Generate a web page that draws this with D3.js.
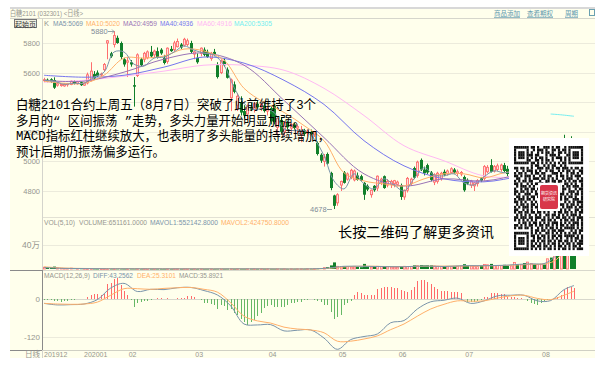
<!DOCTYPE html>
<html><head><meta charset="utf-8">
<style>html,body{margin:0;padding:0;background:#fff}svg{display:block}text{font-family:"Liberation Sans","Noto Sans CJK SC",sans-serif}</style>
<script src="https://cdn.jsdelivr.net/npm/d3@7/dist/d3.min.js"></script></head><body><div id="c"></div>
<script>
// one [open, high, low, close] per trading day
const candles=[[5545,5565,5535,5552],[5552,5560,5535,5540],[5555,5562,5530,5538],[5550,5568,5490,5498],[5515,5530,5505,5525],[5512,5525,5505,5520],[5510,5530,5505,5522],[5518,5530,5505,5526],[5520,5548,5515,5542],[5540,5548,5520,5525],
[5525,5545,5518,5538],[5535,5540,5510,5515],[5515,5535,5510,5530],[5530,5600,5520,5585],[5550,5670,5540,5610],[5590,5610,5555,5560],[5600,5615,5570,5575],[5585,5600,5570,5590],[5620,5665,5610,5655],[5800,5820,5690,5815],
[5730,5740,5700,5710],[5790,5880,5770,5850],[5835,5850,5795,5800],[5800,5810,5690,5705],[5690,5700,5640,5655],[5670,5705,5570,5680],[5670,5685,5640,5655],[5515,5570,5370,5505],[5580,5730,5570,5720],[5690,5700,5640,5650],
[5690,5740,5670,5730],[5700,5750,5690,5740],[5740,5780,5700,5710],[5720,5755,5705,5745],[5745,5770,5695,5705],[5755,5765,5720,5730],[5700,5720,5655,5665],[5675,5770,5660,5765],[5760,5780,5740,5745],[5755,5815,5745,5800],
[5775,5830,5770,5810],[5790,5800,5760,5770],[5785,5835,5775,5825],[5790,5830,5780,5815],[5800,5815,5730,5740],[5725,5745,5690,5740],[5700,5730,5660,5670],[5730,5770,5710,5765],[5755,5770,5710,5720],[5740,5755,5700,5705],
[5695,5740,5680,5730],[5740,5760,5710,5720],[5650,5670,5560,5570],[5600,5690,5590,5680],[5680,5700,5640,5650],[5620,5635,5560,5565],[5430,5560,5340,5550],[5520,5540,5460,5470],[5380,5460,5340,5440],[5400,5440,5310,5330],
[5340,5380,5290,5310],[5320,5385,5280,5370],[5370,5395,5340,5350],[5350,5400,5330,5390],[5390,5410,5355,5365],[5365,5395,5340,5385],[5375,5395,5330,5340],[5340,5370,5310,5360],[5360,5375,5250,5270],[5375,5390,5250,5265],
[5230,5300,5180,5290],[5280,5300,5190,5200],[5200,5270,5170,5260],[5260,5275,5210,5230],[5225,5260,5200,5250],[5250,5260,5215,5225],[5225,5250,5190,5235],[5180,5240,5130,5210],[5210,5220,5170,5185],[5190,5215,5170,5205],
[5200,5215,5175,5185],[5185,5200,5165,5195],[5125,5135,5040,5050],[5045,5055,4990,5005],[5000,5050,4965,5030],[5050,5060,4975,4985],[4922,4930,4805,4820],[4770,4775,4678,4700],[4720,4785,4700,4775],[4840,4870,4800,4865],
[4925,4935,4850,4855],[4880,4925,4870,4915],[4890,4950,4880,4940],[4875,4945,4865,4935],[4905,4925,4870,4875],[4900,4910,4865,4870],[4855,4860,4740,4775],[4835,4845,4800,4810],[4775,4810,4755,4805],[4835,4840,4795,4805],
[4820,4905,4800,4900],[4860,4890,4840,4880],[4900,4905,4815,4820],[4840,4880,4825,4865],[4845,4875,4820,4865],[4850,4875,4825,4870],[4845,4870,4830,4860],[4840,4850,4740,4760],[4760,4810,4740,4805],[4805,4895,4790,4885],
[4850,4890,4835,4880],[4955,4965,4880,4890],[4905,5005,4890,4995],[5010,5020,4935,4945],[4945,4965,4905,4920],[4975,4985,4915,4925],[4925,4935,4865,4875],[4860,4920,4840,4910],[4865,4930,4850,4920],[4885,4930,4870,4920],
[4930,4945,4900,4910],[4915,4945,4905,4935],[4925,4960,4915,4950],[4945,4955,4915,4925],[4920,4945,4900,4930],[4915,4935,4900,4925],[4895,4905,4795,4805],[4875,4885,4840,4850],[4840,4875,4820,4865],[4835,4860,4800,4855],
[4850,4880,4830,4870],[4885,4895,4860,4870],[4885,4975,4870,4965],[4930,4975,4920,4960],[4975,5015,4925,4930],[4935,4975,4925,4965],[4945,4985,4935,4970],[4945,4985,4930,4975],[4975,4990,4925,4935],[4950,4970,4900,4915],
[4915,4960,4900,4950],[4950,4990,4940,4980],[4980,5000,4950,4965],[4965,4995,4950,4985],[4985,5010,4965,4975],[4975,5000,4950,4990],[4990,5020,4975,5010],[5010,5030,4985,4995],[4995,5020,4975,5005],[5005,5030,4990,5020],
[5020,5040,4995,5005],[5005,5060,4995,5050],[5050,5080,5030,5040],[5040,5100,5030,5090],[5090,5130,5070,5080],[5080,5150,5060,5140],[5140,5180,5080,5095],[5095,5150,5080,5140],[5140,5170,5100,5110],[5110,5150,5085,5069]];
const maDaysFine=[0,3,6,9,12,15,18,21,24,27,30,33,36,39,42,45,48,51,54,57,60,63,66,69,72,75,78,81,84,87,90,93,96,99,102,105,108,111,114,117,120,123,126,129,132,135,138,141,144,147,150,153,156,159];
const ma5=[5548,5542,5521,5528,5528,5569,5603,5739,5739,5657,5644,5698,5705,5739,5780,5752,5732,5718,5650,5501,5392,5351,5358,5331,5222,5208,5208,5154,5038,4868,4814,4916,4848,4814,4882,4841,4800,4882,4957,4909,4902,4916,4855,4841,4896,4936,4923,4935,4950,4940,4930,4980,5030,5069];
const maDaysMid=[0,6,12,18,24,30,36,42,48,54,60,66,72,78,84,90,96,102,108,114,120,126,132,138,144,150,156,159];
const ma10=[5542,5528,5528,5582,5698,5698,5712,5759,5746,5684,5494,5399,5331,5242,5140,4923,4868,4848,4834,4882,4916,4916,4889,4923,4940,4950,4990,5020];
const maDaysWide=[0,12,24,36,48,60,72,84,96,108,120,132,144,159];
const ma20=[5548,5542,5603,5691,5732,5650,5412,5161,4916,4834,4882,4868,4916,4959];
const ma40=[5582,5569,5582,5637,5705,5664,5548,5385,5140,4970,4882,4862,4902,4936];
const ma60=[5535,5548,5576,5610,5650,5650,5616,5494,5310,5106,5004,4902,4896,4916];
const ma200Days=[152,155,159];
const ma200=[5320,5315,5305];
// daily volume, thousands of lots
const volume=[30,26,24,40,18,12,10,10,14,10, 9,8,8,6,7,5,4,4,5,6, 5,5,6,5,4,4,5,5,6,4, 4,3,4,3,4,3,3,4,3,3, 4,3,3,4,3,3,3,4,3,3, 3,3,4,3,3,4,3,3,4,3, 3,3,4,3,3,4,3,3,3,3, 3,4,3,3,3,4,3,3,4,5, 5,6,8,14,22,30,60,110,45,35, 40,38,30,32,35,30,85,45,30,35, 45,40,50,35,30,30,28,50,45,40, 42,60,55,65,60,62,60,50,45,40, 38,35,38,40,45,50,80,55,50,45, 40,55,75,70,85,60,58,55,70,55, 50,110,80,70,100,115,90,80,75,80, 75,170,190,230,290,410,520,560,610,651];
const volDays=[0,6,12,18,24,60,84,90,96,102,108,114,120,126,132,138,144,147,150,153,156,159];
const mavol1=[24,10,7,5,4,3,10,45,45,40,38,50,42,55,55,62,82,85,90,190,390,552];
const mavol2=[36,16,9,6,5,3,6,35,48,42,40,46,48,50,52,58,72,78,85,130,280,425];
const macdDays=[0,4,8,12,16,20,24,28,32,36,40,44,48,52,56,60,64,68,72,76,80,84,88,92,96,100,104,108,112,116,120,124,128,132,136,140,144,148,152,156,159];
const diff=[-14,-19,-18,-16,-2,35,50,24,31,30,36,37,27,13,-22,-80,-83,-82,-102,-100,-99,-125,-161,-130,-120,-112,-76,-69,-32,-9,-4,3,-14,-6,10,12,12,-6,-5,30,43];
const dea=[-14,-16,-17,-16,-10,12,33,33,31,34,36,37,31,22,-12,-55,-70,-77,-90,-96,-99,-108,-135,-135,-128,-118,-98,-80,-55,-32,-17,-6,-7,-6,3,10,12,2,-2,12,25];
const macdBar=[-2,-3,-4,-7,-6,-8,-7,-5,-4,-3,-1,-1,0,6,12,16,16,14,16,48,50,64,67,45,26,14,-3,-26,-13,-9,-7,-5,-2,1,2,3,1,2,1,1,3,2,3,9,11,6,-1,-2,-12,-14,-17,-18,-32,-20,-22,-36,-32,-45,-50,-64,-72,-82,-72,-68,-55,-45,-30,-23,-20,-24,-27,-25,-26,-20,-13,-12,-10,-8,-2,-3,-1,-3,-5,-8,-18,-18,-40,-64,-58,-50,-20,-12,-5,14,22,20,12,14,12,14,32,36,38,38,38,36,35,28,26,24,30,38,58,62,60,53,48,38,32,27,25,25,23,22,21,18,1,-10,-11,-9,-6,-4,6,8,19,19,18,17,16,7,6,6,4,3,1,-5,-12,-16,-18,-14,-6,-3,1,3,8,14,30,40,38,36];
const priceTicks=[5800,5600,5400,5200,5000,4800];
const monthIdx=[0,12,26,46,68,89,107,127,150];
const monthLabels=["201912","202001","02","03","04","05","06","07","08"];
const noteLines=["白糖2101合约上周五（8月7日）突破了此前维持了3个","多月的“ 区间振荡 ”走势，多头力量开始明显加强。","MACD指标红柱继续放大，也表明了多头能量的持续增加，","预计后期仍振荡偏多运行。"];
const qrRows=[
"#######.##.#..###.#.##..#.#######",
"#.....#..#.###.#..##.#.##.#.....#",
"#.###.#.#..#.#.##.#..##.#.#.###.#",
"#.###.###.##...#.###.#...##.###.#",
"#.###.#.#.#.##.#..#.###.#.#.###.#",
"#.....##..##.#.##.#...#.#.#.....#",
"#######.##.#.#.#.#.#.#.##.#######",
"........#.##..#.#.##..#.#........",
"##.##.#.#..###.##.#.##.###.#.##.#",
".#..#.###.#.#..#.##..#.#.##.#..##",
"#.##.#..#.##.##...###.#..#.##.#.#",
"##.#.###.#..#.#.##..#.##.#.#.###.",
".##..#.#.###.##.#.#.#..#.###..#.#",
"#.#.##.##...#..##.##.##.#.#.##.##",
"##.#..#.#.##.#.#...#.#..##.#.#..#",
".#.###.#.#..##.##.##.#.#.##.###.#",
"#..#.##.##.#.###.#..##.##.#..#.##",
"##.##.#.#.#..#.###.#.#.#..###.#.#",
"#.#..###..##.##.#.##..##.#.#.##.#",
".##.#.#.##.#.#..##.#.##.#.##.#..#",
"#.###.##.#..##.#.#.##.#.##..###.#",
"##.#.#..#.#.###..#.#.#..#.#.#.###",
".#.##.#.##.#..#.##.##.##.#.##.#.#",
"#.#.###.#.##.##.#.#..#.#.###.#.##",
"##..#.#.#..#.#.##.###.#.#.#..##.#",
"#.##.##.##.##.#.#..#.##.##.#.#.##",
".#.#.#.#..#.#..##.##.#.#.#.###.#.",
"##.###.##.###.#.#.#.##.##.#.#.###",
"#.#.#.#.#.#..##.##.#..#.##.##.#.#",
"..#.##.#.##.#.#.#.###.#.#.#.###.#",
"##.#.#.##.#.##.##.#.#.##.#.##.#.#",
"#.##.##.#..#.#.#.##.#.#.#####.#.#",
"........#.##.##.#.##.###...#.#.##",
"#######.#.#.#..##.#.#.#.#.#.##.#.",
"#.....#.##.#.##.#.##.##.#####.#.#",
"#.###.#..#.##.#.#.#.#.#..#.#.##.#",
"#.###.#.##.#.##.##.#.##.##.#.#.##",
"#.###.#.#.#.#.#.#.##.#.#.##.#.###",
"#.....#.##.##.##.#.#.##.#.#.##.#.",
"#######.#.#.#.#.##.#.#.##.#.#.###"];
const W=609,H=369,bg="#ffffec",grid="#ecebdc",gray="#96968f";
const C={slate:"#7a94aa",orange:"#ffb06a",purple:"#9a74b6",blue:"#7676ee",pink:"#ffb8f4",cyan:"#74eef0",red:"#ff6e6e",green:"#11802a"};
const svg=d3.select("#c").append("svg").attr("width",W).attr("height",H);
const x=d3.scaleLinear().domain([0,159]).range([44,574]);
const yP=d3.scaleLinear().domain([4800,5800]).range([191,43]);
const yV=d3.scaleLinear().domain([0,400]).range([269,245]);
const yM=d3.scaleLinear().domain([-120,0]).range([336.5,299]);
const rx=v=>Math.round(x(v));
svg.append("rect").attr("x",10).attr("y",8).attr("width",585).attr("height",350).attr("fill",bg);
svg.append("rect").attr("x",10).attr("y",7).attr("width",585).attr("height",2).attr("fill","#d8d8d8");
const hl=(y,x1,x2,c)=>svg.append("line").attr("x1",x1).attr("x2",x2).attr("y1",y+.5).attr("y2",y+.5).attr("stroke",c);
const txt=(s,px,py,o={})=>{const t=svg.append("text").attr("x",px).attr("y",py).text(s).attr("font-size",o.size||7.5).attr("fill",o.fill||gray).attr("text-anchor",o.anchor||"start");
  if(o.len)t.attr("textLength",o.len).attr("lengthAdjust","spacingAndGlyphs");if(o.weight)t.attr("font-weight",o.weight);if(o.deco)t.attr("text-decoration",o.deco);return t;};
hl(18,10,595,"#d6d6cc");
priceTicks.forEach(p=>{hl(Math.round(yP(p)),43,595,grid);txt(p,40,yP(p)+3,{anchor:"end",size:7.5});});
hl(217,43,595,"#e2e1d4");hl(245,43,595,grid);hl(270,43,595,"#d8d8cc");hl(270,10,43,"#8a8a8a");
hl(Math.round(yM(0)),43,595,"#d8d8cc");hl(Math.round(yM(-120)),43,595,grid);hl(350,43,595,"#d0d0c4");hl(350,10,43,"#8a8a8a");
svg.append("line").attr("x1",42.5).attr("x2",42.5).attr("y1",18).attr("y2",270).attr("stroke","#d4d4cc");
svg.append("line").attr("x1",42.5).attr("x2",42.5).attr("y1",270).attr("y2",350).attr("stroke","#8a8a8a");
svg.append("line").attr("x1",42.5).attr("x2",42.5).attr("y1",350).attr("y2",358).attr("stroke","#d4d4cc");
// header
txt("白糖2101 (032301) <日线>",10,16,{size:7.5,len:73});
[["商品添加",494,26],["查看期权",527,26],["周期",565,13]].forEach(d=>txt(d[0],d[1],16,{size:6.5,fill:"#5d98ad",len:d[2],deco:"underline"}));
svg.append("rect").attr("x",589.5).attr("y",9.5).attr("width",5).attr("height",6).attr("fill","none").attr("stroke","#6aa0b0");
svg.append("rect").attr("x",14.5).attr("y",19.5).attr("width",22).attr("height",8).attr("fill","#f2f2e2").attr("stroke","#777");
txt("起始页",25.5,26.5,{size:7,fill:"#333",anchor:"middle"});
txt("K",44,26,{size:7.5});
[["MA5:5069",53,30,C.slate],["MA10:5020",86,34,C.orange],["MA20:4959",123,34,C.purple],["MA40:4936",160,33,C.blue],["MA60:4916",197,35,C.pink],["MA200:5305",234,38,C.cyan]].forEach(d=>txt(d[0],d[1],26,{fill:d[3],len:d[2],weight:500}));
// candles
const up=d=>d[3]>=d[0];
const gC=svg.append("g");
gC.selectAll("line").data(candles).join("line").attr("x1",(d,i)=>rx(i)+.5).attr("x2",(d,i)=>rx(i)+.5).attr("y1",d=>yP(d[1])).attr("y2",d=>yP(d[2])).attr("stroke",d=>up(d)?C.red:C.green);
gC.selectAll("rect").data(candles).join("rect").attr("x",(d,i)=>rx(i)-(up(d)?.5:1)).attr("width",d=>up(d)?2:3)
 .attr("y",d=>yP(Math.max(d[0],d[3]))).attr("height",d=>Math.max(1,Math.abs(yP(d[0])-yP(d[3]))))
 .attr("fill",d=>up(d)?"#ffdcd9":C.green).attr("stroke",d=>up(d)?C.red:"none").attr("stroke-width",d=>up(d)?.9:0);
const line=(days,vals,sc,col,w=1,curve=d3.curveCatmullRom)=>svg.append("path").attr("fill","none").attr("stroke",col).attr("stroke-width",w)
 .attr("d",d3.line().x((d,i)=>x(days[i])).y(d=>sc(d)).curve(curve)(vals));
line(maDaysWide,ma60,yP,C.pink);line(ma200Days,ma200,yP,C.cyan);line(maDaysWide,ma40,yP,C.blue);line(maDaysWide,ma20,yP,C.purple);line(maDaysMid,ma10,yP,C.orange);line(maDaysFine,ma5,yP,C.slate);
txt("5880",91,34,{size:7.5,fill:"#7f8c98"});svg.append("path").attr("d","M108 31.5H114M112 29.5L114 31.5L112 33.5").attr("fill","none").attr("stroke","#7f8c98").attr("stroke-width",.8);
txt("4678",310,212,{size:7.5,fill:"#7f8c98"});svg.append("path").attr("d","M327 209.5H332").attr("stroke","#7f8c98").attr("stroke-width",.8);
// volume
txt("VOL(5,10)",44,225,{len:31});txt("VOLUME:651161.0000",79,225,{len:68});txt("MAVOL1:552142.8000",150,225,{len:68,fill:C.slate,weight:500});txt("MAVOL2:424750.8000",221,225,{len:68,fill:C.orange,weight:500});
txt("40万",40,248,{anchor:"end",size:8.5});
svg.append("g").selectAll("rect").data(volume).join("rect").attr("x",(d,i)=>rx(i)-(up(candles[i])?.5:1)).attr("width",(d,i)=>up(candles[i])?2:3)
 .attr("y",d=>yV(d)).attr("height",d=>Math.max(.7,yV(0)-yV(d))).attr("fill",(d,i)=>up(candles[i])?"#ffdcd9":C.green).attr("stroke",(d,i)=>up(candles[i])?C.red:"none").attr("stroke-width",.8);
line(volDays,mavol2,yV,C.orange);line(volDays,mavol1,yV,C.slate);
// macd
txt("MACD(12,26,9)",44,278,{len:46});txt("DIFF:43.2562",93,278,{len:40,fill:C.slate,weight:500});txt("DEA:25.3101",137,278,{len:39,fill:C.orange,weight:500});txt("MACD:35.8921",179,278,{len:44});
txt("0",40,302,{anchor:"end",size:8});txt("-120",40,339.5,{anchor:"end",size:8});
svg.append("g").attr("shape-rendering","crispEdges").selectAll("line").data(macdBar).join("line").attr("x1",(d,i)=>rx(i)+.5).attr("x2",(d,i)=>rx(i)+.5).attr("y1",yM(0)).attr("y2",d=>yM(d)).attr("stroke",d=>d>=0?"#ff6a6a":"#66b866");
line(macdDays,diff,yM,C.slate);line(macdDays,dea,yM,C.orange);
txt("日线",40,357,{anchor:"end",size:7.5});
monthIdx.forEach((v,i)=>txt(monthLabels[i],i<2?x(v):x(v)-2,357,{size:7}));
// notes
const noteWidths=[300,289,314,149];
noteLines.forEach((s,i)=>txt(s,16,[109,125,140,155.5][i],{size:13,fill:"#000",len:noteWidths[i]}).style("font-family",'"Liberation Mono","Noto Sans CJK SC",monospace'));
txt("长按二维码了解更多资讯",338,237,{size:14,fill:"#000",len:156});
// QR block
svg.append("rect").attr("x",509).attr("y",138).attr("width",80).attr("height",118).attr("fill","#fff");
const mw=69/33,mh=104/qrRows.length;
const cells=[];qrRows.forEach((r,j)=>[...r].forEach((c,i)=>{if(c==="#")cells.push([i,j]);}));
svg.append("g").selectAll("rect").data(cells).join("rect").attr("x",d=>514+d[0]*mw).attr("y",d=>146+d[1]*mh).attr("width",mw+.1).attr("height",mh+.1).attr("fill","#111");
svg.append("rect").attr("x",538).attr("y",183).attr("width",22).attr("height",28).attr("fill","#fff");
svg.append("rect").attr("x",540).attr("y",185).attr("width",18).attr("height",24).attr("rx",2).attr("fill","#d8364a");
txt("期货资讯",549,195,{size:4,fill:"#fff",anchor:"middle"});txt("研究院",549,201,{size:4,fill:"#fff",anchor:"middle"});
</script></body></html>
